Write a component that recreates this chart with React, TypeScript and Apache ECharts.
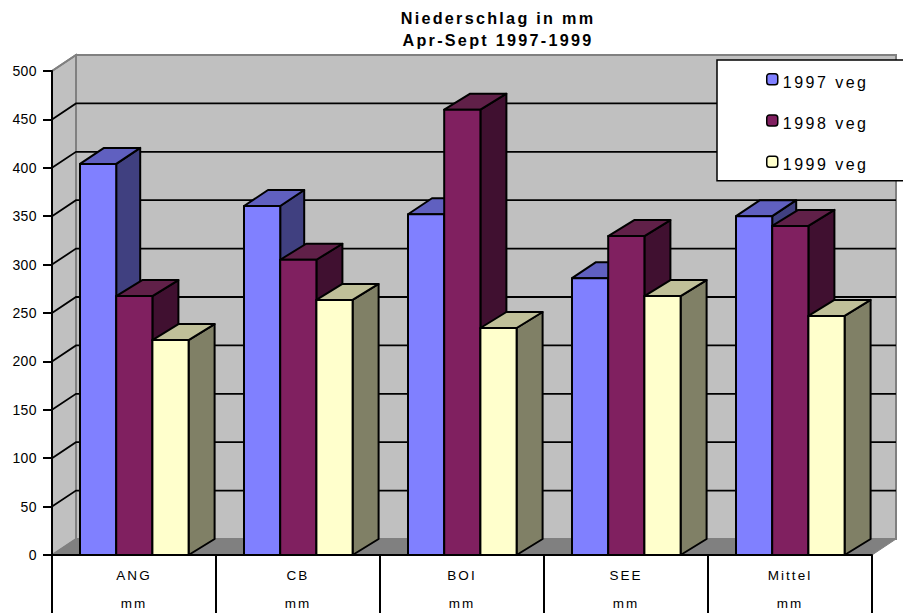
import React, { useEffect, useRef } from "react";
import * as echarts from "echarts";

const categories = ["ANG", "CB", "BOI", "SEE", "Mittel"];
const unitLabel = "mm";
const seriesNames = ["1997 veg", "1998 veg", "1999 veg"];
const values1997 = [404, 360.5, 352, 286, 350];
const values1998 = [267.5, 305, 460, 329.5, 340];
const values1999 = [222, 263.5, 234.5, 267.5, 247];
const yTicks = [0, 50, 100, 150, 200, 250, 300, 350, 400, 450, 500];

const frontColors = ["#8080FF", "#802060", "#FFFFCC"];
const topColors = ["#6060C0", "#602048", "#C0C099"];
const sideColors = ["#404080", "#401030", "#808066"];
const wallColor = "#C0C0C0";
const floorColor = "#808080";
const FONT = '"Liberation Sans", Arial, sans-serif';

// Projection of the chart's depth axis, in pixels
const DX = 24;
const DY = -16;
const BAR_DX = [24, 26, 26];
const EDGE = 2;

// Back wall, side wall and floor of the 3D box
function renderWalls(params: any) {
  const { x, y, width, height } = params.coordSys;
  const b = y + height;
  const r = x + width;
  const border = { stroke: floorColor, lineWidth: EDGE };
  return {
    type: "group",
    children: [
      { type: "rect", shape: { x: x + DX, y: y + DY, width, height }, style: { fill: wallColor, ...border } },
      {
        type: "polygon",
        shape: { points: [[x, y], [x + DX, y + DY], [x + DX, b + DY], [x, b]] },
        style: { fill: wallColor, ...border },
      },
      {
        type: "polygon",
        shape: { points: [[x, b], [x + DX, b + DY], [r + DX, b + DY], [r, b]] },
        style: { fill: floorColor, stroke: floorColor, lineWidth: 1 },
      },
    ],
  };
}

// One gridline, folded from the side wall onto the back wall
function renderGridline(params: any, api: any) {
  const v = api.value(0);
  const { x, width } = params.coordSys;
  const py = api.coord([0, v])[1];
  const stroke = v === 500 ? floorColor : "#000";
  return {
    type: "polyline",
    shape: { points: [[x, py], [x + DX, py + DY], [x + width + DX, py + DY]] },
    style: { stroke, lineWidth: 1.8, fill: "none" },
  };
}

function barRenderer(slot: number) {
  return (_params: any, api: any) => {
    const [cx, py] = api.coord([api.value(0), api.value(1)]);
    const base = api.coord([api.value(0), 0])[1];
    const band = api.size([1, 0])[0];
    const w = (band * 36.2) / 164;
    const l = cx - band / 2 + (band * 28) / 164 + slot * w;
    const r = l + w;
    const dx = BAR_DX[slot];
    const line = { stroke: "#000", lineWidth: EDGE, lineJoin: "round" };
    return {
      type: "group",
      children: [
        {
          type: "polygon",
          shape: { points: [[r, py], [r + dx, py + DY], [r + dx, base + DY], [r, base]] },
          style: { fill: sideColors[slot], ...line },
        },
        {
          type: "polygon",
          shape: { points: [[l, py], [l + dx, py + DY], [r + dx, py + DY], [r, py]] },
          style: { fill: topColors[slot], ...line },
        },
        {
          type: "rect",
          shape: { x: l, y: py, width: w, height: base - py },
          style: { fill: frontColors[slot], ...line },
        },
      ],
    };
  };
}

export default function App() {
  const ref = useRef<HTMLDivElement>(null);

  useEffect(() => {
    const chart = echarts.init(ref.current!, undefined, { renderer: "svg" });
    const barValues = [values1997, values1998, values1999];
    chart.setOption({
      animation: false,
      backgroundColor: "#fff",
      title: {
        text: "Niederschlag in mm\nApr-Sept 1997-1999",
        left: 493,
        top: 2,
        textAlign: "center",
        textStyle: { fontFamily: FONT, fontSize: 16.2, fontWeight: "bold", color: "#000", lineHeight: 22 },
      },
      legend: {
        orient: "vertical",
        left: 717,
        top: 60,
        padding: [13, 60, 8, 49],
        itemWidth: 11,
        itemHeight: 11,
        itemGap: 24,
        backgroundColor: "#fff",
        borderColor: "#000",
        borderWidth: 1.5,
        selectedMode: false,
        data: seriesNames.map((name, i) => ({
          name,
          icon: "roundRect",
          itemStyle: { color: frontColors[i], borderColor: "#000", borderWidth: 1.5 },
        })),
        formatter: "{t|{name}}",
        textStyle: {
          fontFamily: FONT,
          fontSize: 16,
          color: "#000",
          rich: { t: { fontFamily: FONT, fontSize: 16, color: "#000", padding: [6, 0, 0, 0] } },
        },
      },
      grid: { left: 52, top: 71, width: 820, height: 484, containLabel: false, outerBoundsMode: "none" },
      xAxis: {
        type: "category",
        data: categories,
        z: 6,
        axisLine: { lineStyle: { color: "#000", width: 2 } },
        axisTick: { show: true, alignWithLabel: false, length: 58, lineStyle: { color: "#000", width: 2 } },
        axisLabel: {
          margin: 6,
          interval: 0,
          color: "#000",
          fontFamily: FONT,
          fontSize: 13.5,
          lineHeight: 28,
          formatter: (name: string) => `${name}\n${unitLabel}`,
        },
      },
      yAxis: {
        type: "value",
        min: 0,
        max: 500,
        interval: 50,
        z: 6,
        splitLine: { show: false },
        axisLine: { show: true, lineStyle: { color: "#000", width: 2 } },
        axisTick: { show: true, length: 9, lineStyle: { color: "#000", width: 2 } },
        axisLabel: { margin: 15, color: "#000", fontFamily: FONT, fontSize: 14 },
      },
      series: [
        { type: "custom", silent: true, clip: false, z: 1, renderItem: renderWalls, data: [[0]] },
        {
          type: "custom",
          silent: true,
          clip: false,
          z: 2,
          renderItem: renderGridline,
          encode: { y: 0 },
          data: yTicks.filter((t) => t > 0).map((t) => [t]),
        },
        ...seriesNames.map((name, i) => ({
          type: "custom",
          name,
          silent: true,
          clip: false,
          z: 3,
          itemStyle: { color: frontColors[i] },
          renderItem: barRenderer(i),
          encode: { x: 0, y: 1 },
          data: barValues[i].map((v, c) => [c, v]),
        })),
      ],
    });
    return () => chart.dispose();
  }, []);

  return (
    <>
      <style>{`
        #chart-area text { letter-spacing: 0.03em; }
        #chart-area text[style*="16px"] { letter-spacing: 0.155em; }
        #chart-area text[style*="16.2px"] { letter-spacing: 0.14em; }
        #chart-area text[style*="13.5px"] { letter-spacing: 0.15em; }
      `}</style>
      <div
        id="chart-area"
        ref={ref}
        style={{ position: "fixed", left: 0, top: 0, width: 903, height: 613 }}
      />
    </>
  );
}
